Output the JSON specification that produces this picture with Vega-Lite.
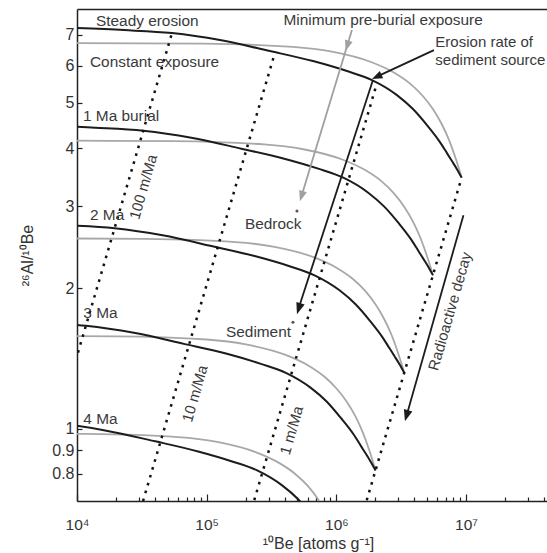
{
  "$schema": "https://vega.github.io/schema/vega-lite/v6.json",
  "width": 470,
  "height": 492,
  "autosize": {"type": "none"},
  "padding": {"left": 77, "top": 9, "right": 0, "bottom": 52},
  "background": "white",
  "config": {
    "view": {"stroke": null},
    "font": "Liberation Sans",
    "axis": {"grid": false, "labelFont": "Liberation Sans", "titleFont": "Liberation Sans", "titleFontWeight": "normal", "labelColor": "#333", "titleColor": "#333", "domainColor": "#222", "tickColor": "#222", "domainWidth": 1.5, "tickWidth": 1.2}
  },
  "datasets": {
    "black": [
      {"burial": 0, "N": 10000, "R": 7.234}, {"burial": 0, "N": 23040, "R": 7.163}, {"burial": 0, "N": 54000, "R": 7.058}, {"burial": 0, "N": 126600, "R": 6.818}, {"burial": 0, "N": 307600, "R": 6.458}, {"burial": 0, "N": 660000, "R": 6.147}, {"burial": 0, "N": 1207000, "R": 5.851}, {"burial": 0, "N": 1882000, "R": 5.596}, {"burial": 0, "N": 2932000, "R": 5.196}, {"burial": 0, "N": 3897000, "R": 4.85}, {"burial": 0, "N": 4995000, "R": 4.48}, {"burial": 0, "N": 6292000, "R": 4.12}, {"burial": 0, "N": 7126000, "R": 3.902}, {"burial": 0, "N": 7786000, "R": 3.751}, {"burial": 0, "N": 8508000, "R": 3.605}, {"burial": 0, "N": 9249000, "R": 3.457},
      {"burial": 1, "N": 6007, "R": 4.468}, {"burial": 1, "N": 13840, "R": 4.424}, {"burial": 1, "N": 32440, "R": 4.359}, {"burial": 1, "N": 76050, "R": 4.211}, {"burial": 1, "N": 184800, "R": 3.988}, {"burial": 1, "N": 396500, "R": 3.796}, {"burial": 1, "N": 725000, "R": 3.614}, {"burial": 1, "N": 1130500, "R": 3.456}, {"burial": 1, "N": 1761000, "R": 3.209}, {"burial": 1, "N": 2341000, "R": 2.995}, {"burial": 1, "N": 3000500, "R": 2.767}, {"burial": 1, "N": 3779600, "R": 2.545}, {"burial": 1, "N": 4280600, "R": 2.41}, {"burial": 1, "N": 4677000, "R": 2.317}, {"burial": 1, "N": 5110800, "R": 2.226}, {"burial": 1, "N": 5555900, "R": 2.135},
      {"burial": 2, "N": 3608, "R": 2.759}, {"burial": 2, "N": 8313, "R": 2.732}, {"burial": 2, "N": 19483, "R": 2.692}, {"burial": 2, "N": 45677, "R": 2.6}, {"burial": 2, "N": 110982, "R": 2.463}, {"burial": 2, "N": 238128, "R": 2.344}, {"burial": 2, "N": 435486, "R": 2.232}, {"burial": 2, "N": 679026, "R": 2.134}, {"burial": 2, "N": 1057866, "R": 1.982}, {"burial": 2, "N": 1406038, "R": 1.85}, {"burial": 2, "N": 1802196, "R": 1.709}, {"burial": 2, "N": 2270154, "R": 1.571}, {"burial": 2, "N": 2571061, "R": 1.488}, {"burial": 2, "N": 2809189, "R": 1.431}, {"burial": 2, "N": 3069686, "R": 1.375}, {"burial": 2, "N": 3337039, "R": 1.318},
      {"burial": 3, "N": 2168, "R": 1.704}, {"burial": 3, "N": 4995, "R": 1.688}, {"burial": 3, "N": 11707, "R": 1.663}, {"burial": 3, "N": 27447, "R": 1.606}, {"burial": 3, "N": 66688, "R": 1.521}, {"burial": 3, "N": 143088, "R": 1.448}, {"burial": 3, "N": 261678, "R": 1.378}, {"burial": 3, "N": 408018, "R": 1.318}, {"burial": 3, "N": 635658, "R": 1.224}, {"burial": 3, "N": 844870, "R": 1.143}, {"burial": 3, "N": 1082916, "R": 1.055}, {"burial": 3, "N": 1364106, "R": 0.971}, {"burial": 3, "N": 1544917, "R": 0.919}, {"burial": 3, "N": 1688005, "R": 0.884}, {"burial": 3, "N": 1844534, "R": 0.849}, {"burial": 3, "N": 2005183, "R": 0.814},
      {"burial": 4, "N": 1302, "R": 1.053}, {"burial": 4, "N": 3000, "R": 1.042}, {"burial": 4, "N": 7031, "R": 1.027}, {"burial": 4, "N": 16483, "R": 0.992}, {"burial": 4, "N": 40050, "R": 0.94}, {"burial": 4, "N": 85932, "R": 0.894}, {"burial": 4, "N": 157151, "R": 0.851}, {"burial": 4, "N": 245036, "R": 0.814}, {"burial": 4, "N": 381746, "R": 0.756}, {"burial": 4, "N": 507389, "R": 0.706}, {"burial": 4, "N": 650349, "R": 0.652}, {"burial": 4, "N": 819218, "R": 0.599}
    ],
    "gray": [
      {"burial": 0, "N": 10000, "R": 6.72}, {"burial": 0, "N": 92490, "R": 6.7}, {"burial": 0, "N": 462500, "R": 6.595}, {"burial": 0, "N": 924900, "R": 6.44}, {"burial": 0, "N": 1850000, "R": 6.12}, {"burial": 0, "N": 2775000, "R": 5.81}, {"burial": 0, "N": 3700000, "R": 5.5}, {"burial": 0, "N": 4625000, "R": 5.18}, {"burial": 0, "N": 5549000, "R": 4.85}, {"burial": 0, "N": 6474000, "R": 4.51}, {"burial": 0, "N": 7399000, "R": 4.16}, {"burial": 0, "N": 8324000, "R": 3.80}, {"burial": 0, "N": 8787000, "R": 3.625}, {"burial": 0, "N": 9249000, "R": 3.457},
      {"burial": 1, "N": 6007, "R": 4.15}, {"burial": 1, "N": 55559, "R": 4.138}, {"burial": 1, "N": 277824, "R": 4.073}, {"burial": 1, "N": 555587, "R": 3.977}, {"burial": 1, "N": 1111295, "R": 3.78}, {"burial": 1, "N": 1666943, "R": 3.588}, {"burial": 1, "N": 2222590, "R": 3.397}, {"burial": 1, "N": 2778238, "R": 3.199}, {"burial": 1, "N": 3333285, "R": 2.995}, {"burial": 1, "N": 3888932, "R": 2.785}, {"burial": 1, "N": 4444579, "R": 2.569}, {"burial": 1, "N": 5000227, "R": 2.347}, {"burial": 1, "N": 5278351, "R": 2.239}, {"burial": 1, "N": 5555874, "R": 2.135},
      {"burial": 2, "N": 3608, "R": 2.563}, {"burial": 2, "N": 33370, "R": 2.555}, {"burial": 2, "N": 166870, "R": 2.515}, {"burial": 2, "N": 333704, "R": 2.456}, {"burial": 2, "N": 667480, "R": 2.334}, {"burial": 2, "N": 1001220, "R": 2.216}, {"burial": 2, "N": 1334960, "R": 2.098}, {"burial": 2, "N": 1668700, "R": 1.976}, {"burial": 2, "N": 2002079, "R": 1.85}, {"burial": 2, "N": 2335819, "R": 1.72}, {"burial": 2, "N": 2669559, "R": 1.587}, {"burial": 2, "N": 3003299, "R": 1.449}, {"burial": 2, "N": 3170350, "R": 1.383}, {"burial": 2, "N": 3337039, "R": 1.318},
      {"burial": 3, "N": 2168, "R": 1.583}, {"burial": 3, "N": 20052, "R": 1.579}, {"burial": 3, "N": 100270, "R": 1.554}, {"burial": 3, "N": 200518, "R": 1.517}, {"burial": 3, "N": 401080, "R": 1.442}, {"burial": 3, "N": 601620, "R": 1.369}, {"burial": 3, "N": 802160, "R": 1.296}, {"burial": 3, "N": 1002700, "R": 1.22}, {"burial": 3, "N": 1203023, "R": 1.143}, {"burial": 3, "N": 1403563, "R": 1.063}, {"burial": 3, "N": 1604103, "R": 0.98}, {"burial": 3, "N": 1804643, "R": 0.895}, {"burial": 3, "N": 1905022, "R": 0.854}, {"burial": 3, "N": 2005183, "R": 0.814},
      {"burial": 4, "N": 1302, "R": 0.978}, {"burial": 4, "N": 12042, "R": 0.975}, {"burial": 4, "N": 60218, "R": 0.96}, {"burial": 4, "N": 120422, "R": 0.937}, {"burial": 4, "N": 240870, "R": 0.89}, {"burial": 4, "N": 361305, "R": 0.845}, {"burial": 4, "N": 481740, "R": 0.8}, {"burial": 4, "N": 602175, "R": 0.754}, {"burial": 4, "N": 722480, "R": 0.706}, {"burial": 4, "N": 842915, "R": 0.656}
    ],
    "iso": [
      {"rate": "100", "N": 54000, "R": 7.058}, {"rate": "100", "N": 7031, "R": 1.027},
      {"rate": "10", "N": 336200, "R": 6.411}, {"rate": "10", "N": 26300, "R": 0.5762},
      {"rate": "1", "N": 2056000, "R": 5.514}, {"rate": "1", "N": 160840, "R": 0.4956},
      {"rate": "0", "N": 9249000, "R": 3.457}, {"rate": "0", "N": 723550, "R": 0.3107}
    ],
    "arrows": [
      {"id": "sed", "N": 1915000, "R": 5.596}, {"id": "sed", "N": 514800, "R": 1.823},
      {"id": "ero", "N": 5655000, "R": 6.49}, {"id": "ero", "N": 2093000, "R": 5.708},
      {"id": "decay", "N": 9550000, "R": 2.872}, {"id": "decay", "N": 3502000, "R": 1.0743},
      {"id": "min", "N": 1319000, "R": 7.163}, {"id": "min", "N": 538200, "R": 3.154}
    ],
    "heads": [
      {"id": "sed", "N": 496800, "R": 1.761},
      {"id": "ero", "N": 1882000, "R": 5.623},
      {"id": "decay", "N": 3380000, "R": 1.038},
      {"id": "min1", "N": 1180000, "R": 6.467},
      {"id": "min2", "N": 524000, "R": 3.077}
    ],
    "stars": [
      {"N": 496800, "R": 2.93}, {"N": 462800, "R": 1.693}
    ],
    "labels": [
      {"text": "Steady erosion", "N": 14010, "R": 7.306},
      {"text": "Constant exposure", "N": 12594, "R": 5.982},
      {"text": "1 Ma burial", "N": 11124, "R": 4.58},
      {"text": "2 Ma", "N": 12594, "R": 2.802},
      {"text": "3 Ma", "N": 11184, "R": 1.724},
      {"text": "4 Ma", "N": 11184, "R": 1.026},
      {"text": "Bedrock", "N": 197400, "R": 2.687},
      {"text": "Sediment", "N": 140900, "R": 1.572},
      {"text": "Minimum pre-burial exposure", "N": 391000, "R": 7.343}
    ],
    "sidelabels": [
      {"text": "Erosion rate of", "N": 5800000, "R": 6.603},
      {"text": "sediment source", "N": 5800000, "R": 6.026}
    ],
    "rotlabels": [
      {"text": "100 m/Ma", "N": 32440, "R": 3.303},
      {"text": "10 m/Ma", "N": 81240, "R": 1.19},
      {"text": "1 m/Ma", "N": 452300, "R": 0.9926},
      {"text": "Radioactive decay", "N": 7515000, "R": 1.787}
    ]
  },
  "encoding": {
    "y": {"field": "R", "type": "quantitative", "scale": {"type": "log", "domain": [0.7, 7.95], "nice": false},
          "axis": {"orient": "left", "values": [0.8, 0.9, 1, 2, 3, 4, 5, 6, 7], "format": "~g", "labelFontSize": 16, "labelPadding": 8, "tickSize": -5, "title": "²⁶Al/¹⁰Be", "titleFontSize": 16, "titlePadding": 16}}
  },
  "resolve": {"axis": {"x": "independent"}},
  "layer": [
    {
      "data": {"name": "gray"},
      "mark": {"type": "line", "clip": true, "color": "#a8a8a8", "strokeWidth": 1.8, "interpolate": "monotone"},
      "encoding": {
        "x": {"field": "N", "type": "quantitative", "scale": {"type": "log", "domain": [10000, 42100000], "nice": false},
              "axis": {"orient": "bottom", "values": [20000, 30000, 40000, 50000, 60000, 70000, 80000, 90000, 200000, 300000, 400000, 500000, 600000, 700000, 800000, 900000, 2000000, 3000000, 4000000, 5000000, 6000000, 7000000, 8000000, 9000000, 20000000, 30000000, 40000000], "labels": false, "domain": false, "tickSize": -4, "title": null}},
        "detail": {"field": "burial"}
      }
    },
    {
      "data": {"name": "black"},
      "mark": {"type": "line", "clip": true, "color": "#1c1c1c", "strokeWidth": 2, "interpolate": "monotone"},
      "encoding": {
        "x": {"field": "N", "type": "quantitative", "scale": {"type": "log", "domain": [10000, 42100000], "nice": false},
              "axis": {"orient": "bottom", "values": [10000, 100000, 1000000, 10000000], "labelExpr": "datum.value == 10000 ? '10⁴' : datum.value == 100000 ? '10⁵' : datum.value == 1000000 ? '10⁶' : '10⁷'", "labelFontSize": 15.5, "labelPadding": 23, "labelFlush": false, "tickSize": -7, "title": "¹⁰Be [atoms g⁻¹]", "titleFontSize": 16, "titlePadding": 2.5, "titleX": 241}},
        "detail": {"field": "burial"}
      }
    },
    {
      "data": {"name": "iso"},
      "mark": {"type": "line", "clip": true, "color": "#111", "strokeWidth": 2.5, "strokeDash": [2.6, 5.6]},
      "encoding": {
        "x": {"field": "N", "type": "quantitative", "scale": {"type": "log", "domain": [10000, 42100000], "nice": false},
              "axis": {"orient": "top", "labels": false, "ticks": false, "domain": true, "title": null}},
        "detail": {"field": "rate"}
      }
    },
    {
      "data": {"name": "arrows"},
      "transform": [{"filter": "datum.id != 'min'"}],
      "mark": {"type": "line", "clip": true, "color": "#1c1c1c", "strokeWidth": 1.8},
      "encoding": {
        "x": {"field": "N", "type": "quantitative", "axis": null},
        "detail": {"field": "id"}
      }
    },
    {
      "data": {"name": "arrows"},
      "transform": [{"filter": "datum.id == 'min'"}],
      "mark": {"type": "line", "clip": true, "color": "#a0a0a0", "strokeWidth": 1.8},
      "encoding": {
        "x": {"field": "N", "type": "quantitative", "axis": null}
      }
    },
    {
      "data": {"name": "heads"},
      "transform": [{"filter": "datum.id == 'sed'"}],
      "mark": {"type": "point", "shape": "M0,0L-0.38,-1L0.38,-1Z", "size": 529, "filled": true, "color": "#1c1c1c", "opacity": 1, "angle": 18},
      "encoding": {"x": {"field": "N", "type": "quantitative", "axis": null}}
    },
    {
      "data": {"name": "heads"},
      "transform": [{"filter": "datum.id == 'decay'"}],
      "mark": {"type": "point", "shape": "M0,0L-0.38,-1L0.38,-1Z", "size": 529, "filled": true, "color": "#1c1c1c", "opacity": 1, "angle": 16},
      "encoding": {"x": {"field": "N", "type": "quantitative", "axis": null}}
    },
    {
      "data": {"name": "heads"},
      "transform": [{"filter": "datum.id == 'ero'"}],
      "mark": {"type": "point", "shape": "M0,0L-0.38,-1L0.38,-1Z", "size": 441, "filled": true, "color": "#1c1c1c", "opacity": 1, "angle": 65},
      "encoding": {"x": {"field": "N", "type": "quantitative", "axis": null}}
    },
    {
      "data": {"name": "heads"},
      "transform": [{"filter": "datum.id == 'min1' || datum.id == 'min2'"}],
      "mark": {"type": "point", "shape": "M0,0L-0.38,-1L0.38,-1Z", "size": 441, "filled": true, "color": "#a0a0a0", "opacity": 1, "angle": 17},
      "encoding": {"x": {"field": "N", "type": "quantitative", "axis": null}}
    },
    {
      "data": {"name": "stars"},
      "mark": {"type": "point", "shape": "circle", "size": 9, "filled": true, "color": "#555", "opacity": 1},
      "encoding": {"x": {"field": "N", "type": "quantitative", "axis": null}}
    },
    {
      "data": {"name": "labels"},
      "mark": {"type": "text", "align": "left", "baseline": "alphabetic", "font": "Liberation Sans", "fontSize": 15.4, "color": "#3a3a3a"},
      "encoding": {
        "x": {"field": "N", "type": "quantitative", "axis": null},
        "text": {"field": "text"}
      }
    },
    {
      "data": {"name": "sidelabels"},
      "mark": {"type": "text", "align": "left", "baseline": "alphabetic", "font": "Liberation Sans", "fontSize": 15, "color": "#3a3a3a"},
      "encoding": {
        "x": {"field": "N", "type": "quantitative", "axis": null},
        "text": {"field": "text"}
      }
    },
    {
      "data": {"name": "rotlabels"},
      "mark": {"type": "text", "align": "center", "baseline": "middle", "font": "Liberation Sans", "fontSize": 15, "color": "#3a3a3a", "angle": -74},
      "encoding": {
        "x": {"field": "N", "type": "quantitative", "axis": null},
        "text": {"field": "text"}
      }
    }
  ]
}
